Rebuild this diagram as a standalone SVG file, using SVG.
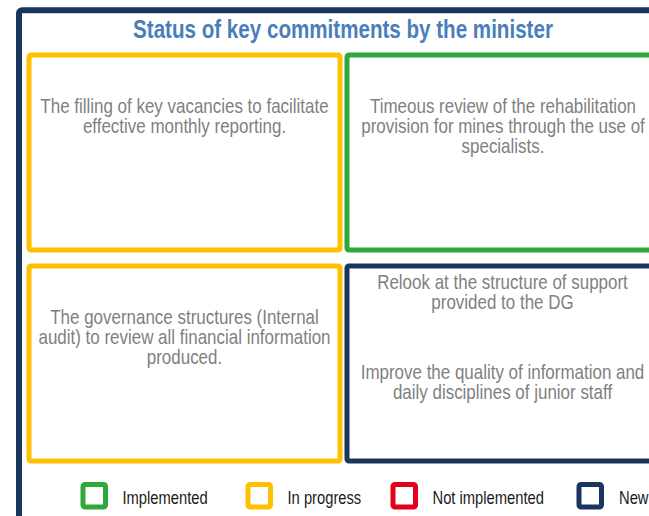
<svg xmlns="http://www.w3.org/2000/svg" width="649" height="516" viewBox="0 0 649 516">
<style>
.frame{fill:#fff;stroke:#1B365D;stroke-width:6}
.box{fill:#fff;stroke-width:5}
.y{stroke:#FFC000}
.g{stroke:#2EA83A}
.r{stroke:#E2001A}
.n{stroke:#1B365D}
.t{font-family:"Liberation Sans",Arial,sans-serif;font-size:20px;fill:#7F7F7F;text-anchor:middle}
.title{font-family:"Liberation Sans",Arial,sans-serif;font-size:25px;font-weight:bold;fill:#4A7EBB;text-anchor:middle}
.leg{font-family:"Liberation Sans",Arial,sans-serif;font-size:18px;fill:#1a1a1a}
</style>
<rect x="0" y="0" width="649" height="516" fill="#fff"/>
<rect class="frame" x="19" y="10.3" width="700" height="600" rx="3"/>
<text class="title" transform="translate(343,37.5) scale(0.824,1)">Status of key commitments by the minister</text>
<g id="box1">
<rect class="box y" x="29" y="55" width="311" height="195" rx="2"/>
<text class="t" transform="translate(184.5,112.5) scale(0.848,1)">The filling of key vacancies to facilitate</text>
<text class="t" transform="translate(184.5,132.5) scale(0.848,1)">effective monthly reporting.</text>
</g>
<g id="box2">
<rect class="box g" x="347" y="55" width="340" height="195" rx="2"/>
<text class="t" transform="translate(503,112.5) scale(0.848,1)">Timeous review of the rehabilitation</text>
<text class="t" transform="translate(503,132.5) scale(0.848,1)">provision for mines through the use of</text>
<text class="t" transform="translate(503,152.5) scale(0.848,1)">specialists.</text>
</g>
<g id="box3">
<rect class="box y" x="29" y="266" width="311" height="195" rx="2"/>
<text class="t" transform="translate(184.5,324) scale(0.848,1)">The governance structures (Internal</text>
<text class="t" transform="translate(184.5,344) scale(0.848,1)">audit) to review all financial information</text>
<text class="t" transform="translate(184.5,364) scale(0.848,1)">produced.</text>
</g>
<g id="box4">
<rect class="box n" x="347" y="266" width="340" height="195" rx="2"/>
<text class="t" transform="translate(502.5,288.5) scale(0.848,1)">Relook at the structure of support</text>
<text class="t" transform="translate(502.5,309) scale(0.848,1)">provided to the DG</text>
<text class="t" transform="translate(502.5,378.5) scale(0.848,1)">Improve the quality of information and</text>
<text class="t" transform="translate(502.5,398.5) scale(0.848,1)">daily disciplines of junior staff</text>
</g>
<g id="connectors"></g>
<g id="legend">
<rect class="box g" x="83" y="484.5" width="22.5" height="22.5" rx="2"/>
<text class="leg" transform="translate(122.5,503.5) scale(0.82,1)">Implemented</text>
<rect class="box y" x="248" y="484.5" width="22.5" height="22.5" rx="2"/>
<text class="leg" transform="translate(287.5,503.5) scale(0.82,1)">In progress</text>
<rect class="box r" x="393" y="484.5" width="22.5" height="22.5" rx="2"/>
<text class="leg" transform="translate(432.5,503.5) scale(0.82,1)">Not implemented</text>
<rect class="box n" x="579" y="484.5" width="22.5" height="22.5" rx="2"/>
<text class="leg" transform="translate(619,503.5) scale(0.82,1)">New</text>
</g>
</svg>
